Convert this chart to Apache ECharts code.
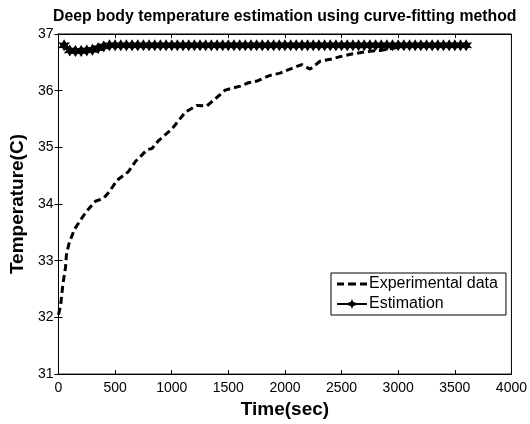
<!DOCTYPE html>
<html>
<head>
<meta charset="utf-8">
<script src="https://cdn.jsdelivr.net/npm/echarts@6/dist/echarts.min.js"></script>
<style>
  html, body { margin: 0; padding: 0; background: #fff; }
  #main { width: 530px; height: 424px; }
</style>
</head>
<body>
<div id="main"></div>
<script>
// experimental data (dashed line)
const expTime = [0, 18, 40, 62, 70, 91, 140, 209, 260, 326, 397, 450, 517, 617, 679, 730, 782, 826, 884, 987, 1016, 1120, 1222, 1310, 1399, 1472, 1605, 1678, 1752, 1869, 1957, 2045, 2148, 2222, 2310, 2413, 2486, 2601, 2721, 2839, 2955, 3041, 3200, 3400, 3600];
const expTemp = [32.05, 32.2, 32.6, 32.88, 33.1, 33.29, 33.55, 33.76, 33.9, 34.05, 34.1, 34.22, 34.42, 34.57, 34.75, 34.85, 34.96, 34.98, 35.12, 35.3, 35.36, 35.62, 35.74, 35.73, 35.88, 36.01, 36.08, 36.14, 36.17, 36.27, 36.31, 36.38, 36.46, 36.38, 36.52, 36.56, 36.6, 36.65, 36.69, 36.71, 36.75, 36.78, 36.79, 36.8, 36.8];

// estimation (line with star markers), one point every 50 s
const estTime = [];
for (let t = 50; t <= 3600; t += 50) estTime.push(t);
const estStart = [36.8, 36.71, 36.7, 36.7, 36.71, 36.72, 36.75, 36.78];
const estTemp = estTime.map((t, i) => i < estStart.length ? estStart[i] : 36.8);

const xTicks = { min: 0, max: 4000, interval: 500 };
const yTicks = { min: 31, max: 37, interval: 1 };

const star = 'path://M0,-10 L3,-4.4 L8.7,-5 L5.3,0 L8.7,5 L3,4.4 L0,10 L-3,4.4 L-8.7,5 L-5.3,0 L-8.7,-5 L-3,-4.4 Z';
const dashIcon = 'path://M0,0h7v3h-7z M11,0h8v3h-8z M23,0h7v3h-7z';
const estIcon = 'path://M0,4h30v2h-30z M15,0 L16.3,3 L19,3.5 L16.6,5 L19,6.5 L16.3,7 L15,10 L13.7,7 L11,6.5 L13.4,5 L11,3.5 L13.7,3 Z';

const chart = echarts.init(document.getElementById('main'));
const font = 'Liberation Sans, Arial, sans-serif';
const tickStyle = { show: true, inside: true, length: 4, lineStyle: { color: '#000' } };

chart.setOption({
  animation: false,
  title: {
    text: 'Deep body temperature estimation using curve-fitting method',
    left: 48,
    top: 4,
    textStyle: { fontFamily: font, fontWeight: 'bold', fontSize: 15.8, color: '#000' }
  },
  grid: {
    left: 58, top: 34, right: 18, bottom: 46,
    show: true, borderColor: '#000', borderWidth: 1
  },
  legend: {
    left: 331, top: 273,
    orient: 'vertical',
    itemWidth: 30, itemHeight: 10, itemGap: 4,
    padding: [3, 8, 3, 6],
    borderColor: '#000', borderWidth: 1, borderRadius: 0,
    backgroundColor: '#fff',
    textStyle: { fontFamily: font, fontSize: 16, color: '#000', padding: [0, 0, 0, -3] },
    data: [
      { name: 'Experimental data', icon: dashIcon },
      { name: 'Estimation', icon: estIcon }
    ]
  },
  xAxis: [{
    type: 'value', ...xTicks,
    name: 'Time(sec)', nameLocation: 'middle', nameGap: 21,
    nameTextStyle: { fontFamily: font, fontWeight: 'bold', fontSize: 19, color: '#000' },
    axisLine: { show: true, lineStyle: { color: '#000' } },
    axisTick: tickStyle,
    axisLabel: { fontFamily: font, fontSize: 14, color: '#000', margin: 7, formatter: v => String(v) },
    splitLine: { show: false }
  }, {
    type: 'value', ...xTicks, position: 'top',
    axisLine: { show: true, lineStyle: { color: '#000' } },
    axisTick: tickStyle, axisLabel: { show: false }, splitLine: { show: false }
  }],
  yAxis: [{
    type: 'value', ...yTicks,
    name: 'Temperature(C)', nameLocation: 'middle', nameGap: 30,
    nameTextStyle: { fontFamily: font, fontWeight: 'bold', fontSize: 19, color: '#000' },
    axisLine: { show: true, lineStyle: { color: '#000' } },
    axisTick: tickStyle,
    axisLabel: { fontFamily: font, fontSize: 14, color: '#000', margin: 5, formatter: v => String(v) },
    splitLine: { show: false }
  }, {
    type: 'value', ...yTicks, position: 'right',
    axisLine: { show: true, lineStyle: { color: '#000' } },
    axisTick: tickStyle, axisLabel: { show: false }, splitLine: { show: false }
  }],
  series: [{
    name: 'Experimental data',
    type: 'line',
    data: expTime.map((t, i) => [t, expTemp[i]]),
    symbol: 'none',
    lineStyle: { color: '#000', width: 3, type: [7, 4] },
    itemStyle: { color: '#000' }
  }, {
    name: 'Estimation',
    type: 'line',
    data: estTime.map((t, i) => [t, estTemp[i]]),
    symbol: star, symbolSize: 12,
    showAllSymbol: true,
    lineStyle: { color: '#000', width: 2.5 },
    itemStyle: { color: '#000' }
  }]
});
</script>
</body>
</html>
